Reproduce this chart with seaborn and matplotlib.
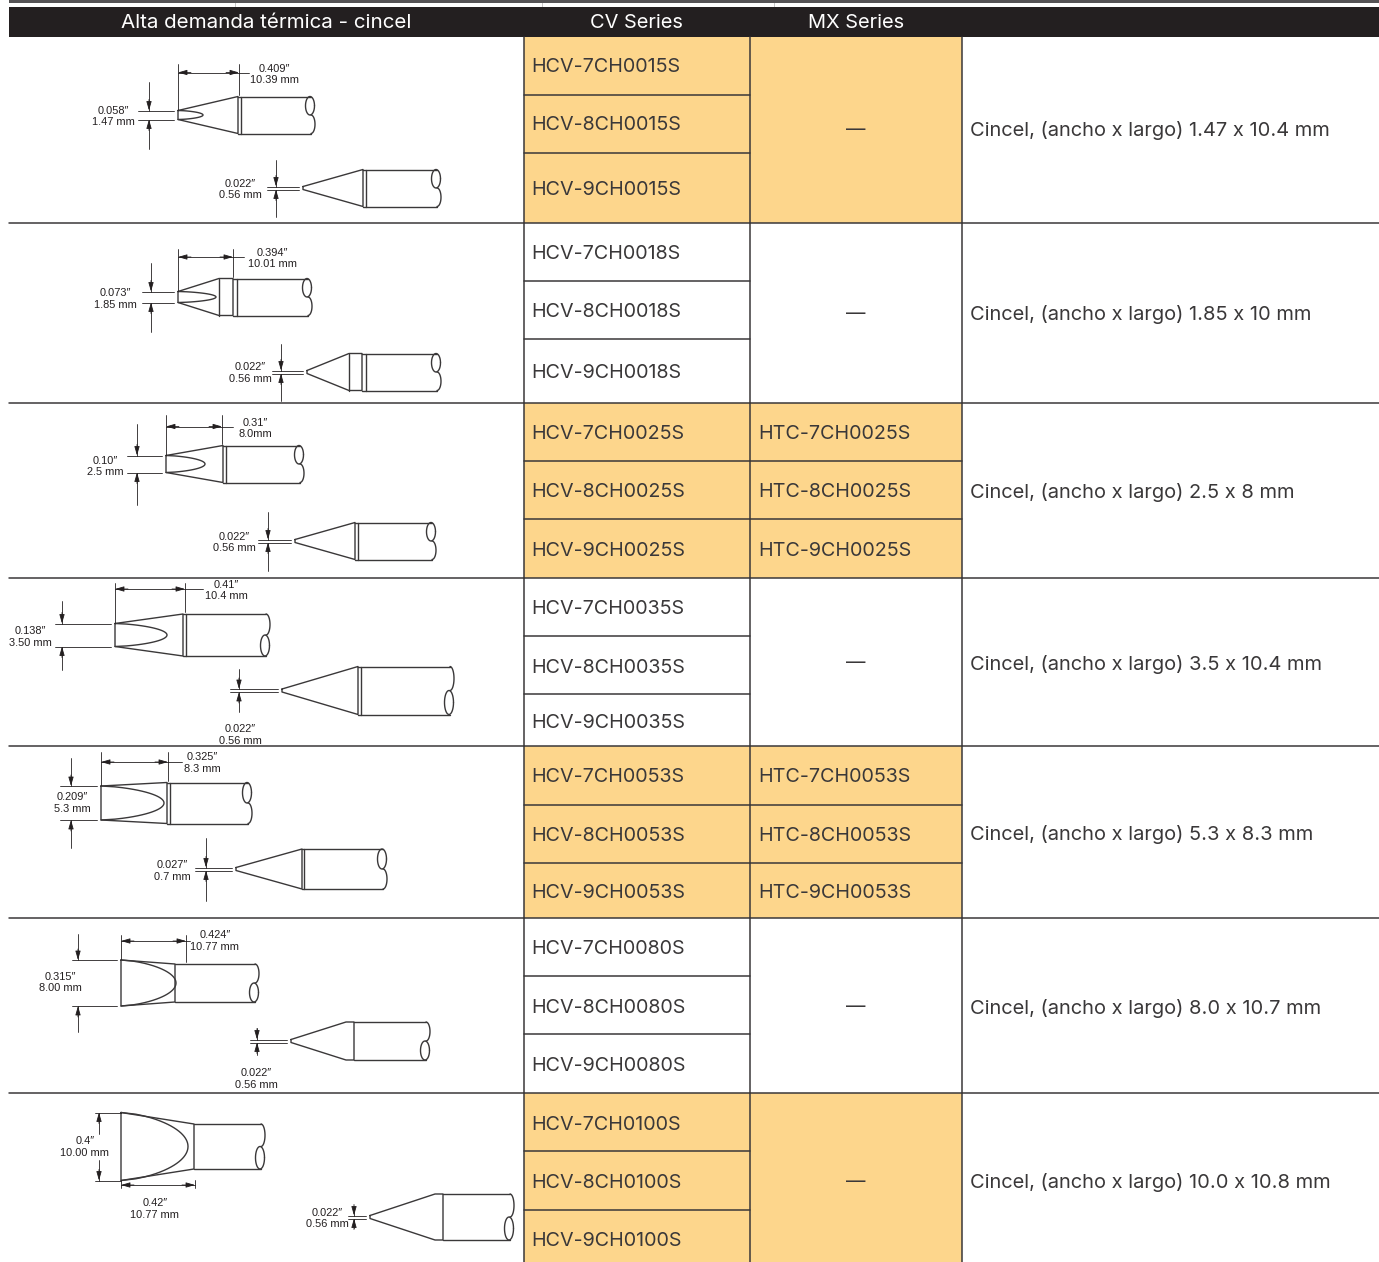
import matplotlib
matplotlib.use("Agg")
import matplotlib.pyplot as plt
from matplotlib.patches import Rectangle
import numpy as np
import pandas as pd
import seaborn as sns

W, H = 1379, 1262

# Tabla
header_labels = ["Alta demanda térmica - cincel", "CV Series", "MX Series"]
sizes = ["0015", "0018", "0025", "0035", "0053", "0080", "0100"]
descriptions = ["1.47 x 10.4 mm", "1.85 x 10 mm", "2.5 x 8 mm", "3.5 x 10.4 mm",
                "5.3 x 8.3 mm", "8.0 x 10.7 mm", "10.0 x 10.8 mm"]
has_mx = [False, False, True, False, True, False, False]
shaded = [True, False, True, False, True, False, True]
col_x = [9, 523.5, 750, 962, 1379]
group_top = [37, 222.5, 402.5, 578, 746, 918, 1093, 1275]
dividers = [[94.5, 152.5], [281, 339], [461, 519], [636, 694], [805, 863], [976, 1034], [1151, 1210]]
text_y = [[65, 123, 188], [252, 310, 371], [432, 490, 549], [607, 666, 721],
          [775, 834, 891], [947, 1006, 1064], [1123, 1181, 1239]]
desc_y = [129, 313, 490, 662, 832, 1006, 1181]

# Puntas: borde, centro, mitad de la punta, hombro, casquillo, fin, mitad del cuerpo, ápice del cincel
tip_x = [178, 303, 178, 307, 166, 295, 115, 282, 101, 236, 121, 291, 121, 370]
tip_y = [115, 188, 297, 372, 464, 541, 635, 690.5, 803, 869, 983, 1041, 1146.5, 1217]
tip_hw = [4.5, 1.5, 5.5, 1.5, 8.5, 1.5, 11.5, 1.5, 17, 1.5, 23, 1.5, 34, 1.5]
shoulder_x = [238, 363, 233, 362, 223, 355, 183, 358, 167, 302, 175, 354, 194, 443]
collar = [3, 3, 4, 4, 3, 3, 3, 3, 3, 2, 0, 0, 0, 0]
end_x = [315, 441, 312, 441, 304, 436, 270, 454, 252, 387, 259, 430, 265, 514]
body_hw = [18.5, 18.5, 18.5, 18.5, 18.5, 18.5, 21, 24, 20.5, 20, 19, 19, 22.5, 23]
apex_x = [203, None, 216, None, 205, None, 167, None, 164, None, 176, None, 188, None]
neck_x = [None, None, 219, 349, None, None, None, None, None, None, None, 346, None, 435]
neck_line = [False, False, True, True, False, False, False, False, False, False, False, False, False, False]
oval_up = [True, True, True, True, True, True, False, False, True, True, False, False, False, False]

# Cotas (textos)
dim_top = ['0.409″', '0.022″', '0.394″', '0.022″', '0.31″', '0.022″', '0.41″', '0.022″',
           '0.325″', '0.027″', '0.424″', '0.022″', '0.4″', '0.022″']
dim_bot = ["10.39 mm", "0.56 mm", "10.01 mm", "0.56 mm", "8.0mm", "0.56 mm", "10.4 mm", "0.56 mm",
           "8.3 mm", "0.7 mm", "10.77 mm", "0.56 mm", "10.00 mm", "0.56 mm"]
dim_x = [274, 240, 272, 250, 255, 234, 226, 240, 202, 172, 215, 256, 85, 327]
dim_y = [73, 188.5, 257, 372, 427, 541, 589, 733.5, 762, 870, 940, 1078, 1146, 1217]
side_top = ['0.058″', None, '0.073″', None, '0.10″', None, '0.138″', None, '0.209″', None, '0.315″', None, None, None]
side_bot = ["1.47 mm", None, "1.85 mm", None, "2.5 mm", None, "3.50 mm", None, "5.3 mm", None, "8.00 mm", None, None, None]
side_x = [113, None, 115, None, 105, None, 30, None, 72, None, 60, None, None, None]
side_y = [115, None, 298, None, 465, None, 636, None, 802, None, 981, None, None, None]
# Línea de cota vertical: x, extremos y extensión
vdim_x = [149, 276, 151, 281, 137, 268, 62, 239, 71, 206, 78, 257, 99, 354]
vdim_reach = [29, 27, 29, 27, 32, 28, 23, 20, 28, 30, 26, 12, 34, 9]
ext_from = [138, 267, 142, 272, 127, 258, 55, 230, 60, 195, 72, 250, 95, 348]
# Cota horizontal: y de la línea y altura de las extensiones
hdim_y = [72.5, None, 257, None, 426.5, None, 589, None, 762, None, 941, None, 1185, None]
hdim_top = [64, None, 249, None, 415, None, 583, None, 752, None, 935, None, 1180, None]
hdim_end = [239, None, 233, None, 222, None, 185, None, 168, None, 186, None, 195, None]
hdim_over = [249, None, 244, None, 233, None, 203, None, 182, None, 190, None, 195, None]


def shaft_paths(i):
    # perfil de una punta como lista de trazos
    x0, cy, hw = tip_x[i], tip_y[i], tip_hw[i]
    sx, ex, bh = shoulder_x[i], end_x[i], body_hw[i]
    cx = sx + collar[i]
    paths = []
    if neck_x[i] is None:
        paths.append(([x0, x0, sx, sx, x0], [cy - hw, cy + hw, cy + bh, cy - bh, cy - hw]))
    else:
        nx = neck_x[i]
        paths.append(([x0, x0, nx, sx, sx, nx, x0],
                      [cy - hw, cy + hw, cy + bh, cy + bh, cy - bh, cy - bh, cy - hw]))
        if neck_line[i]:
            paths.append(([nx, nx], [cy - bh, cy + bh]))
    if collar[i]:
        paths.append(([cx, cx], [cy - bh, cy + bh]))
    paths.append(([sx, ex - 4], [cy - bh, cy - bh]))
    paths.append(([sx, ex - 4], [cy + bh, cy + bh]))
    # ondulación y óvalo del extremo
    t = np.linspace(0, 2 * np.pi, 40)
    sign = -1 if oval_up[i] else 1
    oy = cy + sign * bh / 2
    paths.append((list(ex - 5 + 4.5 * np.cos(t)), list(oy + bh / 2 * np.sin(t))))
    s = np.linspace(0, np.pi, 20)
    paths.append((list(ex - 4 + 4 * np.sin(s)), list(cy - sign * bh / 2 + sign * -bh / 2 * np.cos(s))))
    if apex_x[i] is not None:
        s = np.linspace(-1, 1, 41)
        paths.append((list(x0 + (apex_x[i] - x0) * (1 - s ** 2) ** 0.65), list(cy + hw * s)))
    return paths


def arrow(ax, x, y, dx, dy):
    ax.annotate("", xy=(x, y), xytext=(x + dx, y + dy),
                arrowprops=dict(arrowstyle="-|>,head_width=0.13,head_length=0.45", color="#231f20", lw=0.6,
                                shrinkA=0, shrinkB=0))


def dim_text(ax, x, y, top, bot):
    ax.text(x, y - 4.5, top, ha="center", va="center", fontsize=7.9, color="#231f20", family="Liberation Sans")
    ax.text(x, y + 7, bot, ha="center", va="center", fontsize=7.9, color="#231f20", family="Liberation Sans")


sns.set_theme(style="white")
plt.rcParams["font.family"] = ["Inter", "DejaVu Sans"]

fig = plt.figure(figsize=(W / 100, H / 100), dpi=100)
ax = fig.add_axes([0, 0, 1, 1])
ax.set_xlim(0, W)
ax.set_ylim(H, 0)
ax.axis("off")

# Cabecera
ax.add_patch(Rectangle((9, 6.5), W - 9, 30, color="#231f20", lw=0, zorder=2))
ax.add_patch(Rectangle((9, 0), W - 9, 2.5, color="#555355", lw=0, zorder=2))
for x in (235, 542, 774):
    ax.add_patch(Rectangle((x, 2.5), 1, 4, color="#c8c8c8", lw=0, zorder=2))
ax.text(266, 23.5, header_labels[0], ha="center", va="center", color="white", fontsize=14.8, zorder=3)
ax.text(636.5, 23.5, header_labels[1], ha="center", va="center", color="white", fontsize=14.4, zorder=3)
ax.text(856, 23.5, header_labels[2], ha="center", va="center", color="white", fontsize=14.4, zorder=3)

# Celdas
fill = "#fdd68c"
rows = []
for g, size in enumerate(sizes):
    top, bottom = group_top[g], group_top[g + 1]
    if shaded[g]:
        ax.add_patch(Rectangle((col_x[1], top), col_x[3] - col_x[1], bottom - top, color=fill, lw=0, zorder=0))
    rows.append((col_x[0], W, bottom, bottom, f"h{g}"))
    for c in (1, 2, 3):
        rows.append((col_x[c], col_x[c], top, bottom, f"v{g}{c}"))
    for k, d in enumerate(dividers[g]):
        rows.append((col_x[1], col_x[2], d, d, f"d{g}{k}"))
        if has_mx[g]:
            rows.append((col_x[2], col_x[3], d, d, f"m{g}{k}"))
    for k, (n, y) in enumerate(zip((7, 8, 9), text_y[g])):
        ax.text(531.5, y + 2, f"HCV-{n}CH{size}S", va="center", fontsize=14.2, color="#3a3839")
        if has_mx[g]:
            ax.text(758, y + 2, f"HTC-{n}CH{size}S", va="center", fontsize=14.2, color="#3a3839")
    if not has_mx[g]:
        ax.text(856, desc_y[g] + 1, "—", ha="center", va="center", fontsize=14, color="#3a3839")
    ax.text(970, desc_y[g] + 2, f"Cincel, (ancho x largo) {descriptions[g]}", va="center", fontsize=14.45, color="#3a3839")

grid = pd.DataFrame([
    {"x": v, "y": w, "unit": r[4], "o": o}
    for r in rows for o, (v, w) in enumerate(((r[0], r[2]), (r[1], r[3])))
])
sns.lineplot(data=grid, x="x", y="y", units="unit", estimator=None, sort=False,
             color="#3a3839", lw=1.1, ax=ax, legend=False)

# Dibujos de las puntas
segs = []
thin = []
for i in range(len(tip_x)):
    for k, (xs, ys) in enumerate(shaft_paths(i)):
        segs += [{"x": a, "y": b, "unit": f"{i}-{k}"} for a, b in zip(xs, ys)]

    cy, hw = tip_y[i], tip_hw[i]
    x0 = tip_x[i]
    vx, reach = vdim_x[i], vdim_reach[i]
    if i != 12:
        thin.append(([ext_from[i], x0 - 4], [cy - hw, cy - hw]))
        thin.append(([ext_from[i], x0 - 4], [cy + hw, cy + hw]))
        thin.append(([vx, vx], [cy - hw - reach, cy - hw]))
        thin.append(([vx, vx], [cy + hw, cy + hw + reach]))
        arrow(ax, vx, cy - hw, 0, -11)
        arrow(ax, vx, cy + hw, 0, 11)
    else:
        thin.append(([ext_from[i], x0], [cy - hw, cy - hw]))
        thin.append(([ext_from[i], x0], [cy + hw, cy + hw]))
        thin.append(([vx, vx], [cy - hw, cy - 13]))
        thin.append(([vx, vx], [cy + 13, cy + hw]))
        arrow(ax, vx, cy - hw, 0, 11)
        arrow(ax, vx, cy + hw, 0, -11)

    dim_text(ax, dim_x[i], dim_y[i], dim_top[i], dim_bot[i])
    if side_top[i] is not None:
        dim_text(ax, side_x[i], side_y[i], side_top[i], side_bot[i])
    if hdim_y[i] is not None:
        hy = hdim_y[i]
        if i != 12:
            thin.append(([x0, x0], [hdim_top[i], cy - hw - 1]))
            thin.append(([hdim_end[i], hdim_end[i]], [hdim_top[i], cy - body_hw[i] - 2]))
        else:
            thin.append(([x0, x0], [hdim_top[i], hy + 3]))
            thin.append(([hdim_end[i], hdim_end[i]], [hdim_top[i], hy + 3]))
        thin.append(([x0, hdim_over[i]], [hy, hy]))
        arrow(ax, x0, hy, 13, 0)
        arrow(ax, hdim_end[i], hy, -13, 0)

dim_text(ax, 155, 1207.5, '0.42″', "10.77 mm")

outline = pd.DataFrame(segs)
sns.lineplot(data=outline, x="x", y="y", units="unit", estimator=None, sort=False,
             color="#3a3839", lw=1.0, ax=ax, legend=False)
thin_df = pd.DataFrame([{"x": a, "y": b, "unit": n}
                        for n, (xs, ys) in enumerate(thin) for a, b in zip(xs, ys)])
sns.lineplot(data=thin_df, x="x", y="y", units="unit", estimator=None, sort=False,
             color="#231f20", lw=0.6, ax=ax, legend=False)

ax.set_xlim(0, W)
ax.set_ylim(H, 0)
ax.set_xlabel("")
ax.set_ylabel("")
fig.savefig("out.png", dpi=100)
